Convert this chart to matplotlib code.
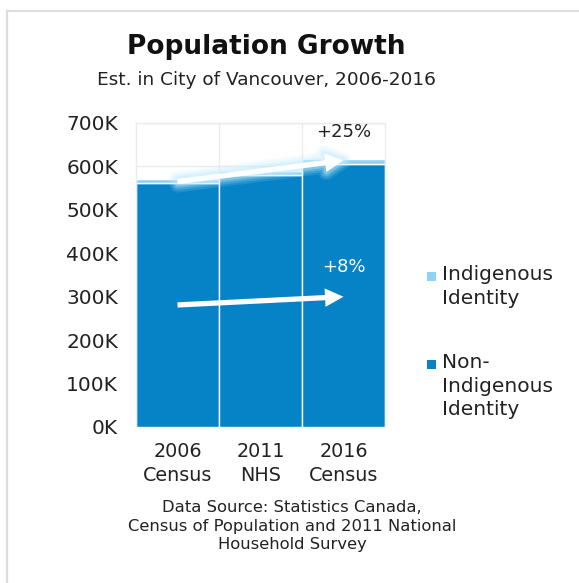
import matplotlib.pyplot as plt
from matplotlib.patches import FancyArrowPatch, Rectangle
from matplotlib.lines import Line2D
import numpy as np

plt.rcParams['font.family'] = ['DejaVu Sans']

# population in thousands
categories = ["2006\nCensus", "2011\nNHS", "2016\nCensus"]
non_indigenous = [562, 580, 606]
indigenous = [9.5, 10.5, 10]
series_names = ["Indigenous\nIdentity", "Non-\nIndigenous\nIdentity"]
yticks = [0, 100, 200, 300, 400, 500, 600, 700]
ytick_labels = ["0K", "100K", "200K", "300K", "400K", "500K", "600K", "700K"]

# growth arrows: (start, end) in thousands, with their labels
indig_arrow = (565, 614)
nonindig_arrow = (281, 300)
indig_growth = "+25%"
nonindig_growth = "+8%"

dark_blue = "#0583c6"
light_blue = "#8ed3f6"
text_col = "#222222"
grid_col = "#ebebeb"

fig = plt.figure(figsize=(5.79, 5.83), dpi=100)

# card border (top and left edges)
fig.add_artist(Line2D([6.5/579, 6.5/579], [0, 1 - 11/583], color="#dddddd", lw=1.6))
fig.add_artist(Line2D([6.5/579, 1], [1 - 11/583, 1 - 11/583], color="#dddddd", lw=1.6))

ax = fig.add_axes([136/579, 1 - 427/583, 249/579, 304/583])

x = np.arange(len(categories))
ax.bar(x, non_indigenous, width=1.0, color=dark_blue, edgecolor="white", linewidth=1, zorder=2)
ax.bar(x, indigenous, bottom=non_indigenous, width=1.0, color=light_blue, edgecolor="white",
       linewidth=1, zorder=2)

ax.set_xlim(-0.5, 2.5)
ax.set_ylim(0, 700)
ax.set_yticks(yticks)
ax.set_yticklabels(ytick_labels, fontsize=14.5)
ax.set_xticks(x)
ax.set_xticklabels(categories, linespacing=1.32, fontsize=13.8)
ax.set_xticks([0.5, 1.5], minor=True)
ax.tick_params(axis="both", which="both", length=0, colors=text_col)
ax.tick_params(axis="y", pad=13)
ax.tick_params(axis="x", pad=11)
ax.grid(axis="y", color=grid_col, lw=1, zorder=0)
ax.grid(axis="x", which="minor", color=grid_col, lw=1, zorder=0)
for s in ax.spines.values():
    s.set_color(grid_col)
    s.set_linewidth(1)
ax.spines["bottom"].set_visible(False)


def draw_arrow(start, end, glow=False):
    style = "simple,tail_width=0.27,head_width=0.95,head_length=0.95"
    if glow:
        for w, a in [(12, 0.05), (9, 0.07), (6, 0.1), (3.5, 0.14)]:
            ax.add_patch(FancyArrowPatch((0, start), (2, end), arrowstyle=style,
                                         mutation_scale=14, color="#c4ebfc", lw=w,
                                         alpha=a * 2.5, zorder=3, shrinkA=0, shrinkB=0,
                                         joinstyle="round", capstyle="round"))
    ax.add_patch(FancyArrowPatch((0, start), (2, end), arrowstyle=style, mutation_scale=14,
                                 color="white", lw=0, zorder=4, shrinkA=0, shrinkB=0))


draw_arrow(*indig_arrow, glow=True)
draw_arrow(*nonindig_arrow)

ax.text(2, 680, indig_growth, ha="center", va="center", fontsize=13, color=text_col, zorder=5)
ax.text(2, 368, nonindig_growth, ha="center", va="center", fontsize=13, color="white", zorder=5)

# legend
colors = [light_blue, dark_blue]
legend_y = [276.5, 364.5]
for name, c, yy in zip(series_names, colors, legend_y):
    fig.add_artist(Rectangle((427/579, 1 - (yy + 4.5)/583), 9/579, 9/583,
                             facecolor=c, edgecolor="none", transform=fig.transFigure))
    fig.text(442/579, 1 - (yy - 11)/583, name, ha="left", va="top", fontsize=14.5,
             color=text_col, linespacing=1.27)

fig.text(266/579, 1 - 47/583, "Population Growth", ha="center", va="center",
         fontsize=19, fontweight="bold", color="#111111")
fig.text(266/579, 1 - 80/583, "Est. in City of Vancouver, 2006-2016", ha="center",
         va="center", fontsize=13.3, color=text_col)
fig.text(292/579, 1 - 526/583,
         "Data Source: Statistics Canada,\nCensus of Population and 2011 National\nHousehold Survey",
         ha="center", va="center", fontsize=11.8, color=text_col, linespacing=1.25)

fig.savefig("out.png", dpi=100)
